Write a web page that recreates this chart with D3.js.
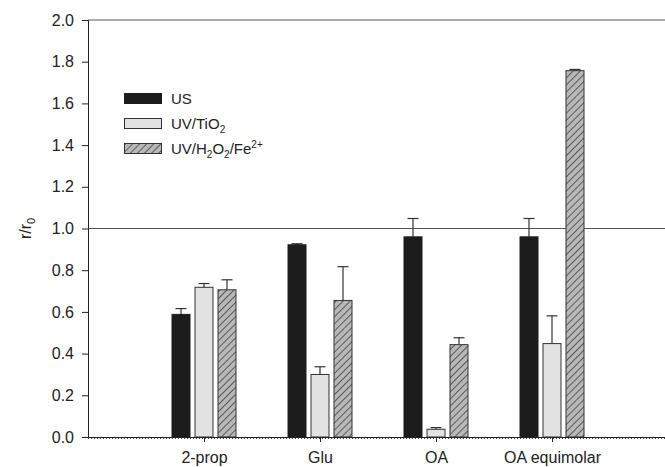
<!DOCTYPE html>
<html>
<head>
<meta charset="utf-8">
<script src="https://cdn.jsdelivr.net/npm/d3@7"></script>
<style>
  body { margin: 0; background: #fff; }
  text { font-family: Arial, "Liberation Sans", sans-serif; fill: #222; }
</style>
</head>
<body>
<svg id="chart" width="665" height="467"></svg>
<script>
// Relative rate r/r0 per substrate and treatment
const categories = ["2-prop", "Glu", "OA", "OA equimolar"];
const series = ["US", "UV/TiO2", "UV/H2O2/Fe2+"];
const valuesUS      = [0.588, 0.922, 0.960, 0.960];
const errorsUS      = [0.028, 0.005, 0.088, 0.088];
const valuesTiO2    = [0.718, 0.300, 0.037, 0.448];
const errorsTiO2    = [0.018, 0.037, 0.008, 0.133];
const valuesFenton  = [0.706, 0.655, 0.443, 1.757];
const errorsFenton  = [0.048, 0.162, 0.033, 0.006];
const yTicks = [0.0, 0.2, 0.4, 0.6, 0.8, 1.0, 1.2, 1.4, 1.6, 1.8, 2.0];

const svg = d3.select("#chart");
const plotLeft = 88, plotRight = 668, plotTop = 20, plotBottom = 437;

// categories sit at positions 1..4 on a 0..5 axis
const x = d3.scaleLinear().domain([0, 5]).range([plotLeft, plotRight]);
const y = d3.scaleLinear().domain([0, 2]).range([plotBottom, plotTop]);
const offset = d3.scalePoint().domain(series).range([-23, 23]);
const barW = 19;

// hatch pattern for the Fenton series
const defs = svg.append("defs");
const pat = defs.append("pattern")
  .attr("id", "hatch").attr("patternUnits", "userSpaceOnUse")
  .attr("width", 5).attr("height", 5)
  .attr("patternTransform", "rotate(45)");
pat.append("rect").attr("width", 5).attr("height", 5).attr("fill", "#b8b8b8");
pat.append("line").attr("x1", 0).attr("y1", 0).attr("x2", 0).attr("y2", 5)
  .attr("stroke", "#3a3a3a").attr("stroke-width", 1.5);

const styles = {
  "US": { fill: "#1c1c1c", stroke: "#1c1c1c" },
  "UV/TiO2": { fill: "#e2e2e2", stroke: "#333" },
  "UV/H2O2/Fe2+": { fill: "url(#hatch)", stroke: "#333" }
};

// top frame line and reference at r/r0 = 1
svg.append("line").attr("x1", plotLeft).attr("x2", 665).attr("y1", y(2)).attr("y2", y(2))
  .attr("stroke", "#555").attr("stroke-width", 1);
svg.append("line").attr("x1", plotLeft).attr("x2", 665).attr("y1", y(1)).attr("y2", y(1))
  .attr("stroke", "#555").attr("stroke-width", 1);

const data = [];
categories.forEach((c, i) => {
  data.push({ cat: c, pos: i + 1, s: "US", v: valuesUS[i], e: errorsUS[i] });
  data.push({ cat: c, pos: i + 1, s: "UV/TiO2", v: valuesTiO2[i], e: errorsTiO2[i] });
  data.push({ cat: c, pos: i + 1, s: "UV/H2O2/Fe2+", v: valuesFenton[i], e: errorsFenton[i] });
});

// error bars (upper only)
const eg = svg.append("g").attr("stroke", "#333").attr("stroke-width", 1.2);
data.forEach(d => {
  const cx = x(d.pos) + offset(d.s);
  eg.append("line").attr("x1", cx).attr("x2", cx).attr("y1", y(d.v)).attr("y2", y(d.v + d.e));
  eg.append("line").attr("x1", cx - 5.5).attr("x2", cx + 5.5).attr("y1", y(d.v + d.e)).attr("y2", y(d.v + d.e));
});

// bars
svg.append("g").selectAll("rect").data(data).join("rect")
  .attr("x", d => x(d.pos) + offset(d.s) - barW / 2 + 0.5)
  .attr("y", d => y(d.v))
  .attr("width", barW - 1)
  .attr("height", d => y(0) - y(d.v))
  .attr("fill", d => styles[d.s].fill)
  .attr("stroke", d => styles[d.s].stroke)
  .attr("stroke-width", 1);

// y axis
const yAxis = d3.axisLeft(y).tickValues(yTicks).tickFormat(d3.format(".1f")).tickSize(6).tickPadding(8);
const gy = svg.append("g").attr("transform", `translate(${plotLeft},0)`).call(yAxis);
gy.select(".domain").attr("stroke", "#222");
gy.selectAll(".tick line").attr("stroke", "#222");
gy.selectAll("text").attr("font-size", 16).attr("fill", "#222")
  .style("font-family", "Arial, 'Liberation Sans', sans-serif");

// x axis
const xAxis = d3.axisBottom(x).tickValues([1, 2, 3, 4]).tickFormat(d => categories[d - 1]).tickSize(5).tickPadding(10).tickSizeOuter(0);
const gx = svg.append("g").attr("transform", `translate(0,${plotBottom})`).call(xAxis);
gx.select(".domain").attr("stroke", "#222");
gx.selectAll(".tick line").attr("stroke", "#222");
gx.selectAll("text").attr("font-size", 16).attr("fill", "#222")
  .style("font-family", "Arial, 'Liberation Sans', sans-serif");
// fine minor ticks along the baseline
svg.append("line").attr("x1", plotLeft).attr("x2", 665).attr("y1", plotBottom + 1.5).attr("y2", plotBottom + 1.5)
  .attr("stroke", "#444").attr("stroke-width", 1.2).attr("stroke-dasharray", "1,2");

// y-axis title r/r0
const yt = svg.append("text").attr("transform", `translate(31,${y(1)}) rotate(-90)`)
  .attr("text-anchor", "middle").attr("font-size", 16);
yt.append("tspan").text("r/r");
yt.append("tspan").attr("font-size", 11).attr("dy", 4).text("0");

// legend
const legendRows = [
  { s: "US", y: 93, parts: [["US", 0]] },
  { s: "UV/TiO2", y: 118, parts: [["UV/TiO", 0], ["2", 1]] },
  { s: "UV/H2O2/Fe2+", y: 143, parts: [["UV/H", 0], ["2", 1], ["O", 0], ["2", 1], ["/Fe", 0], ["2+", -1]] }
];
const lg = svg.append("g");
legendRows.forEach(r => {
  lg.append("rect").attr("x", 124.5).attr("y", r.y + 0.5).attr("width", 37).attr("height", 10)
    .attr("fill", styles[r.s].fill).attr("stroke", styles[r.s].stroke).attr("stroke-width", 1);
  const t = lg.append("text").attr("x", 171).attr("y", r.y + 11).attr("font-size", 15);
  let shift = 0;
  r.parts.forEach(([txt, k]) => {
    const target = k === 1 ? 4 : k === -1 ? -6 : 0;
    const sp = t.append("tspan").attr("dy", target - shift).text(txt);
    if (k !== 0) sp.attr("font-size", 10);
    shift = target;
  });
});
</script>
</body>
</html>
